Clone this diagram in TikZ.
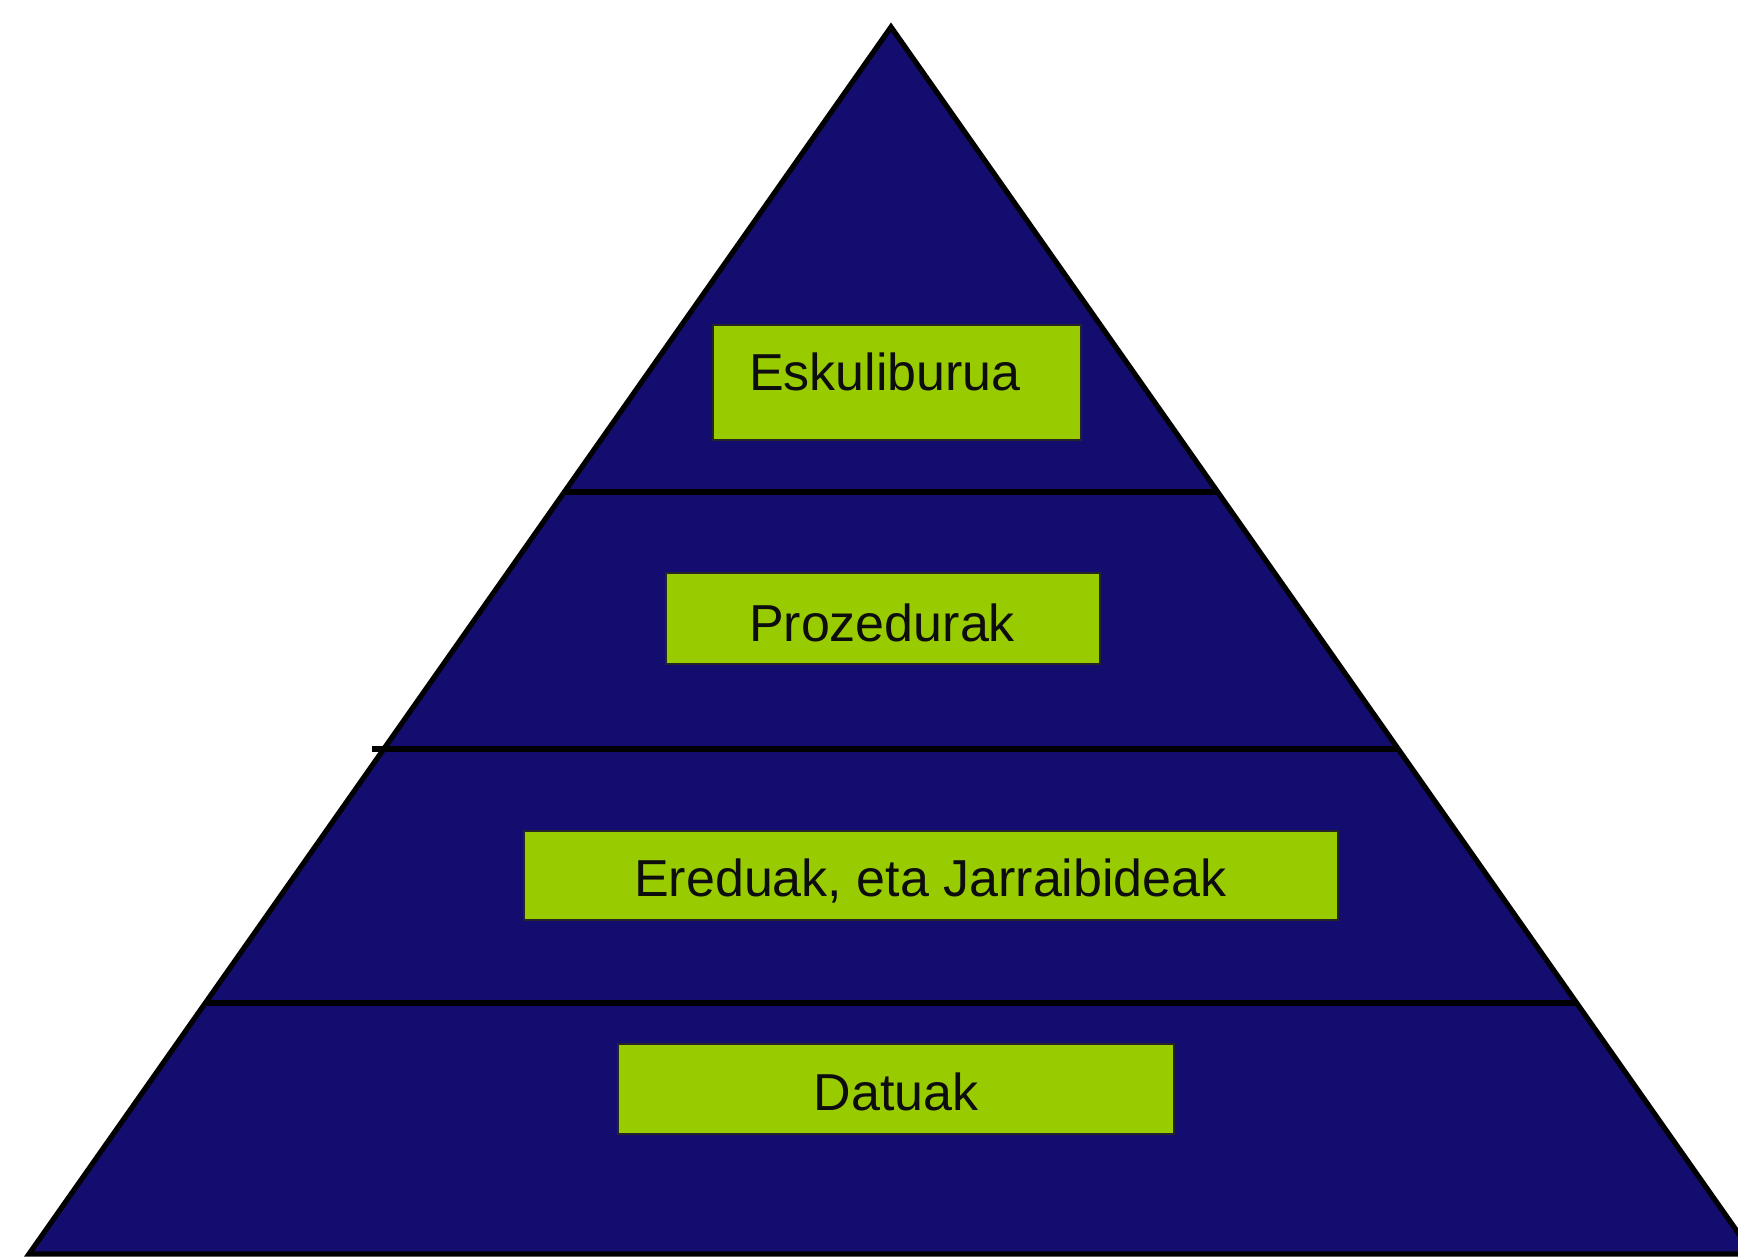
\documentclass[tikz,border=0pt]{standalone}
\usepackage{fontspec}
\setmainfont{Liberation Sans}
\definecolor{navy}{RGB}{19,13,112}
\definecolor{lime}{RGB}{153,204,0}
\tikzset{
  pyr/.style={fill=navy, draw=black, line width=2.6pt, line join=miter},
  divider/.style={draw=black, line width=2.6pt},
  greenbox/.style={rectangle, fill=lime, draw=black!85, line width=0.8pt, inner sep=0pt, outer sep=0pt},
  lbl/.style={font=\fontsize{26}{30}\selectfont, text=black!95, inner sep=0pt, anchor=base}
}
\begin{document}
\begin{tikzpicture}[x=0.5pt, y=-0.5pt]
\useasboundingbox (0,0) rectangle (1738,1258);
\clip (0,0) rectangle (1738,1258);
\fill[white] (0,0) rectangle (1738,1258);
\coordinate (apex) at (891,27);
\coordinate (bl) at (29,1254);
\coordinate (br) at (1753,1254);
\draw[pyr] (apex) -- (bl) -- (br) -- cycle;
\draw[divider] (564.3,492) -- (1217.7,492);
\draw[divider] (372,749) -- (1398.2,749);
\draw[divider] (205.3,1003) -- (1576.7,1003);
\node[greenbox, minimum width=184pt, minimum height=57.5pt] (b1) at (897,382.5) {};
\node[greenbox, minimum width=217pt, minimum height=45.5pt] (b2) at (883,618.5) {};
\node[greenbox, minimum width=407pt, minimum height=44.5pt] (b3) at (931,875.5) {};
\node[greenbox, minimum width=278pt, minimum height=45pt] (b4) at (896,1089) {};
\node[lbl] (t1) at (885,390) {Eskuliburua};
\node[lbl] (t2) at (882,641) {Prozedurak};
\node[lbl] (t3) at (930.5,896) {Ereduak, eta Jarraibideak};
\node[lbl] (t4) at (896,1110) {Datuak};
\end{tikzpicture}
\end{document}
